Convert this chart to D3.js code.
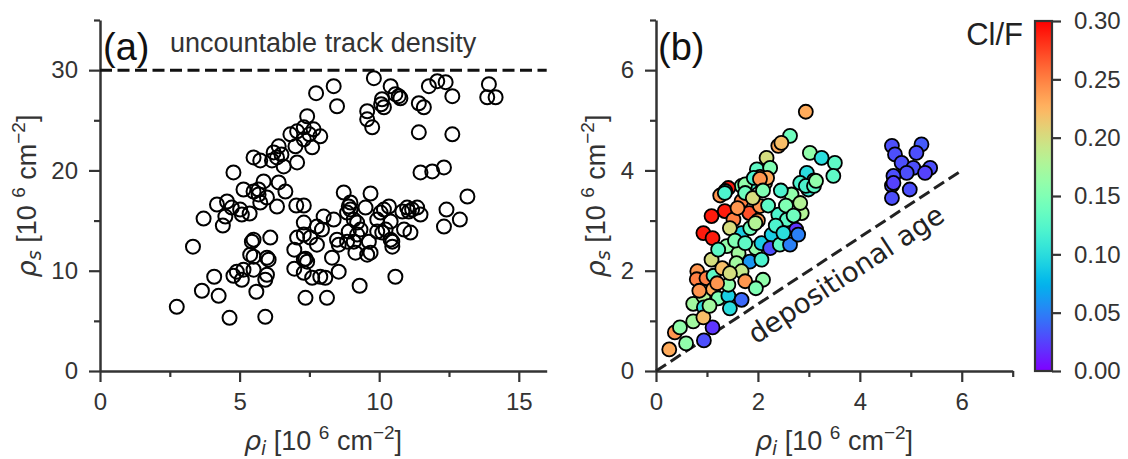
<!DOCTYPE html>
<html><head><meta charset="utf-8">
<script src="https://cdn.jsdelivr.net/npm/d3@7"></script>
<style>body{margin:0;background:#fff}svg{display:block}</style>
</head><body><svg id="c" width="1128" height="459"></svg>
<script>
// ---------- data ----------
// Panel (a): rho_i vs rho_s (10^6 cm^-2)
const rhoI_a = [9.81,8.37,7.74,8.49,10.41,10.58,10.76,10.7,10.1,10.17,10.07,9.57,9.57,9.75,11.78,12.08,12.38,12.62,13.93,13.87,14.17,11.42,11.6,11.42,12.62,11.48,11.9,12.32,7.42,7.06,7.3,6.82,7.5,7.65,7.89,7.6,7.3,7.0,6.4,6.22,6.5,6.34,6.16,6.58,7.06,5.5,5.74,4.78,5.14,5.5,5.68,5.86,6.4,6.64,5.68,5.74,5.98,6.34,4.19,4.55,4.72,5.02,5.08,5.36,4.49,4.4,3.71,3.33,5.5,5.44,6.1,5.38,5.5,5.98,6.04,4.9,5.14,4.78,5.08,5.5,5.98,5.92,5.6,4.09,3.65,4.25,2.75,4.64,5.92,7.03,7.3,7.3,7.06,7.3,7.53,7.77,6.96,7.3,7.42,7.36,6.96,7.3,7.6,7.89,8.07,8.31,8.55,7.36,8.13,7.77,7.95,8.01,8.37,8.49,8.55,8.73,8.97,8.91,8.85,9.09,8.97,9.21,8.91,9.21,9.33,9.09,8.85,9.15,9.51,9.69,9.63,9.69,9.57,9.3,9.93,10.05,10.17,10.35,9.93,10.11,10.23,10.41,10.47,10.47,10.41,10.58,10.83,11.0,11.06,11.18,11.36,11.48,10.89,11.12,12.41,12.32,12.89,13.16];
const rhoS_a = [29.2,28.4,27.7,26.4,28.4,27.6,27.2,27.4,27.1,26.3,26.6,25.9,25.1,24.3,28.4,28.9,28.8,27.4,28.6,27.3,27.3,26.7,26.3,23.8,23.6,19.8,19.9,20.3,25.4,23.9,24.3,23.6,23.6,24.1,23.4,22.3,23.1,22.4,22.4,21.8,21.6,21.3,21.0,20.4,20.8,21.3,21.0,19.8,18.1,17.9,18.1,18.9,18.8,17.9,17.6,16.8,17.3,16.4,16.6,16.9,16.3,16.1,15.6,15.7,15.4,14.5,15.2,12.4,13.1,12.9,13.3,11.6,11.4,11.3,11.1,9.9,10.1,9.5,9.1,10.1,9.6,9.1,7.9,9.4,8.0,7.5,6.4,5.3,5.4,16.5,16.5,14.8,13.3,13.6,13.3,12.6,12.1,11.1,10.9,11.2,10.2,9.8,9.3,9.4,9.3,11.3,9.9,7.3,7.3,14.4,14.1,15.4,15.1,13.1,12.6,17.8,16.8,16.4,15.8,15.1,16.1,14.8,13.9,13.6,14.1,12.9,12.9,11.8,16.3,17.7,12.9,11.8,11.6,8.5,15.1,15.8,16.1,16.4,13.9,13.8,14.1,14.9,12.9,12.4,13.1,9.4,15.9,16.3,15.9,16.1,16.3,15.6,14.1,13.8,16.1,14.4,15.1,17.4];
const countLimit = 30;

// Panel (b): rho_i, rho_s and Cl/F
const rhoI_b = [2.94,2.63,2.4,2.46,2.17,3.02,3.25,3.51,3.48,2.96,3.1,2.83,2.66,2.99,1.98,2.24,2.04,2.14,1.85,1.68,1.42,1.36,1.26,4.63,4.69,4.82,5.05,5.21,5.11,5.38,5.28,4.92,4.66,4.63,4.98,4.63,4.66,0.26,0.37,0.47,0.59,0.94,1.11,0.73,0.73,0.93,0.94,0.93,0.81,0.8,0.99,1.09,1.13,1.12,1.22,1.42,1.42,1.45,1.68,0.93,1.11,1.09,1.35,1.35,1.68,1.83,2.04,2.0,1.52,1.68,1.39,1.22,1.62,1.58,1.84,1.68,1.75,1.96,2.07,2.1,1.96,2.07,2.27,2.24,2.43,2.63,2.4,2.57,2.75,2.79,2.86,2.83,2.94,3.1,3.14,1.75,1.92,2.18,2.04,
  1.45,1.55,1.75,1.85,1.95,1.6,1.75,1.9,2.1,2.2,1.3,1.45,1.2,1.05,2.35,2.5,2.55,2.45,2.7,0.85];
const rhoS_b = [5.17,4.69,4.49,4.55,4.25,4.35,4.25,4.15,3.89,3.95,3.8,3.75,3.52,3.62,4.02,4.05,3.87,3.75,3.75,3.69,3.65,3.59,3.5,4.49,4.32,4.15,4.05,4.52,4.35,4.05,3.95,3.95,3.89,3.7,3.62,3.45,3.75,0.43,0.77,0.87,0.55,0.61,0.87,0.99,1.34,1.49,1.27,1.07,1.99,1.83,1.85,2.22,1.9,1.63,1.45,1.5,1.72,1.25,1.42,2.75,2.65,3.09,3.19,3.55,3.39,3.15,3.29,3.0,3.02,2.75,2.49,2.42,2.35,2.15,2.18,1.99,1.79,2.45,2.22,1.82,1.65,2.55,2.72,2.45,2.52,2.52,3.12,3.02,2.82,2.72,3.15,3.35,3.69,3.69,3.79,3.72,3.85,3.85,3.83,
  2.85,2.6,2.55,2.85,2.95,3.25,3.55,3.45,3.6,3.3,2.05,1.95,1.75,1.3,2.9,2.75,3.3,3.6,3.1,1.6];
const clf_b = [0.23,0.14,0.23,0.22,0.20,0.16,0.10,0.13,0.13,0.10,0.16,0.12,0.16,0.11,0.13,0.15,0.23,0.20,0.12,0.15,0.29,0.12,0.24,0.03,0.03,0.03,0.03,0.035,0.03,0.03,0.025,0.03,0.03,0.03,0.03,0.03,0.025,0.23,0.24,0.16,0.16,0.03,0.02,0.17,0.17,0.18,0.10,0.22,0.24,0.25,0.25,0.20,0.13,0.23,0.15,0.09,0.16,0.10,0.04,0.29,0.29,0.29,0.29,0.12,0.25,0.27,0.24,0.24,0.25,0.09,0.16,0.13,0.17,0.17,0.06,0.19,0.24,0.16,0.12,0.16,0.15,0.09,0.09,0.03,0.13,0.05,0.12,0.13,0.02,0.05,0.18,0.18,0.12,0.13,0.16,0.16,0.12,0.23,0.24,
  0.20,0.15,0.13,0.14,0.18,0.24,0.14,0.20,0.15,0.13,0.22,0.20,0.24,0.17,0.12,0.10,0.15,0.12,0.14,0.24];
const depoLine = [[0,0],[6,4]];

const xTicksA = [0,5,10,15], xMinorA = [2.5,7.5,12.5];
const yTicksA = [0,10,20,30], yMinorA = [5,15,25,35];
const xTicksB = [0,2,4,6], xMinorB = [1,3,5,7];
const yTicksB = [0,2,4,6], yMinorB = [1,3,5,7];
const cbTicks = [0,0.05,0.10,0.15,0.20,0.25,0.30];

// ---------- helpers ----------
const SANS = "'Liberation Sans', Arial, sans-serif";
const INK = "#333";
function rainbow(t){
  t = Math.max(0, Math.min(1, t));
  const cl = v => Math.round(255*Math.max(0, Math.min(1, v)));
  return `rgb(${cl(Math.abs(2*t-0.5))},${cl(Math.sin(Math.PI*t))},${cl(Math.cos(Math.PI*t/2))})`;
}
const svg = d3.select("#c");

function axes(g, x, y, xt, xm, yt, ym, fmt){
  const style = sel => {
    sel.selectAll("path.domain").attr("stroke", INK).attr("stroke-width", 2.5);
    sel.selectAll(".tick line").attr("stroke", INK).attr("stroke-width", 2.2);
    sel.selectAll(".tick text").attr("font-family", SANS).attr("font-size", 24).attr("fill", INK);
  };
  const yr = y.range();
  g.append("g").attr("transform", `translate(0,${yr[0]})`)
    .call(d3.axisBottom(x).tickValues(xm).tickSize(6).tickSizeOuter(0).tickFormat(""))
    .call(s => s.select("path.domain").remove()).call(style);
  g.append("g").attr("transform", `translate(${x.range()[0]},0)`)
    .call(d3.axisLeft(y).tickValues(ym).tickSize(6).tickSizeOuter(0).tickFormat(""))
    .call(s => s.select("path.domain").remove()).call(style);
  g.append("g").attr("transform", `translate(0,${yr[0]})`)
    .call(d3.axisBottom(x).tickValues(xt).tickSize(11).tickPadding(11).tickSizeOuter(0).tickFormat(fmt))
    .call(style);
  g.append("g").attr("transform", `translate(${x.range()[0]},0)`)
    .call(d3.axisLeft(y).tickValues(yt).tickSize(11).tickPadding(11).tickSizeOuter(0).tickFormat(fmt))
    .call(style);
}

function mathLabel(sel, sub){
  sel.attr("font-family", SANS).attr("font-size", 27).attr("fill", INK);
  sel.append("tspan").attr("font-family","'DejaVu Sans', sans-serif").attr("font-style","italic").text("ρ");
  sel.append("tspan").attr("font-family","'DejaVu Sans', sans-serif").attr("font-style","italic").attr("font-size",19).attr("dy",5).text(sub);
  sel.append("tspan").attr("dy",-5).text(" [10 ");
  sel.append("tspan").attr("font-size",19).attr("dy",-11).text("6");
  sel.append("tspan").attr("dy",11).text(" cm");
  sel.append("tspan").attr("font-size",19).attr("dy",-11).text("−2");
  sel.append("tspan").attr("dy",11).text("]");
}

// ---------- panel (a) ----------
const xA = d3.scaleLinear().domain([0,16]).range([100,546.7]);
const yA = d3.scaleLinear().domain([0,35]).range([371,20]);
const gA = svg.append("g");
axes(gA, xA, yA, xTicksA, xMinorA, yTicksA, yMinorA, d3.format("d"));
gA.append("line")
  .attr("x1", xA(0)).attr("x2", xA(16)).attr("y1", yA(countLimit)).attr("y2", yA(countLimit))
  .attr("stroke", "#111").attr("stroke-width", 3).attr("stroke-dasharray", "12 5.5");
gA.append("g").selectAll("circle").data(rhoI_a.map((v,i)=>[v, rhoS_a[i]])).join("circle")
  .attr("cx", d => xA(d[0])).attr("cy", d => yA(d[1])).attr("r", 7)
  .attr("fill", "none").attr("stroke", "#000").attr("stroke-width", 2);
gA.append("text").attr("x", 103).attr("y", 60).attr("font-family", SANS).attr("font-size", 38).attr("fill", "#111").text("(a)");
gA.append("text").attr("x", 170).attr("y", 52).attr("font-family", SANS).attr("font-size", 27).attr("fill", INK).text("uncountable track density");
gA.append("text").attr("x", 323).attr("y", 450).attr("text-anchor","middle").call(mathLabel, "i");
gA.append("text").attr("transform","translate(36,196) rotate(-90)").attr("text-anchor","middle").call(mathLabel, "s");

// ---------- panel (b) ----------
const xB = d3.scaleLinear().domain([0,7]).range([656,1012.7]);
const yB = d3.scaleLinear().domain([0,7]).range([371,20]);
const gB = svg.append("g");
axes(gB, xB, yB, xTicksB, xMinorB, yTicksB, yMinorB, d3.format("d"));
gB.append("line")
  .attr("x1", xB(depoLine[0][0])).attr("y1", yB(depoLine[0][1]))
  .attr("x2", xB(depoLine[1][0])).attr("y2", yB(depoLine[1][1]))
  .attr("stroke", "#222").attr("stroke-width", 3).attr("stroke-dasharray", "12 5.5");
const ang = -Math.atan2(yB(0)-yB(4), xB(6)-xB(0)) * 180/Math.PI;
gB.append("text").attr("transform", `translate(${xB(3.83)},${yB(1.77)}) rotate(${ang})`)
  .attr("text-anchor","middle").attr("font-family","'DejaVu Sans', sans-serif").attr("font-size", 27.5).attr("fill","#222")
  .text("depositional age");
gB.append("g").selectAll("circle").data(rhoI_b.map((v,i)=>[v, rhoS_b[i], clf_b[i]])).join("circle")
  .attr("cx", d => xB(d[0])).attr("cy", d => yB(d[1])).attr("r", 7)
  .attr("fill", d => rainbow(d[2]/0.30)).attr("stroke", "#000").attr("stroke-width", 1.8);
gB.append("text").attr("x", 658).attr("y", 60).attr("font-family", SANS).attr("font-size", 38).attr("fill", "#111").text("(b)");
gB.append("text").attr("x", 834).attr("y", 450).attr("text-anchor","middle").call(mathLabel, "i");
gB.append("text").attr("transform","translate(605,196) rotate(-90)").attr("text-anchor","middle").call(mathLabel, "s");

// ---------- colorbar ----------
const cb = d3.scaleLinear().domain([0,0.30]).range([371,21]);
const defs = svg.append("defs");
const grad = defs.append("linearGradient").attr("id","rb").attr("x1",0).attr("y1",1).attr("x2",0).attr("y2",0);
d3.range(0,1.0001,0.02).forEach(t => grad.append("stop").attr("offset", t).attr("stop-color", rainbow(t)));
svg.append("rect").attr("x",1035).attr("y",cb(0.30)).attr("width",17).attr("height",cb(0)-cb(0.30))
  .attr("fill","url(#rb)").attr("stroke",INK).attr("stroke-width",2.2);
const cbAxis = svg.append("g").attr("transform","translate(1052,0)")
  .call(d3.axisRight(cb).tickValues(cbTicks).tickSize(9).tickPadding(13).tickSizeOuter(0).tickFormat(d3.format(".2f")));
cbAxis.select("path.domain").remove();
cbAxis.selectAll(".tick line").attr("stroke",INK).attr("stroke-width",2.2);
cbAxis.selectAll(".tick text").attr("font-family",SANS).attr("font-size",24).attr("fill",INK);
svg.append("text").attr("x",1023).attr("y",45).attr("text-anchor","end").attr("font-family",SANS).attr("font-size",31).attr("fill","#222").text("Cl/F");
</script></body></html>
